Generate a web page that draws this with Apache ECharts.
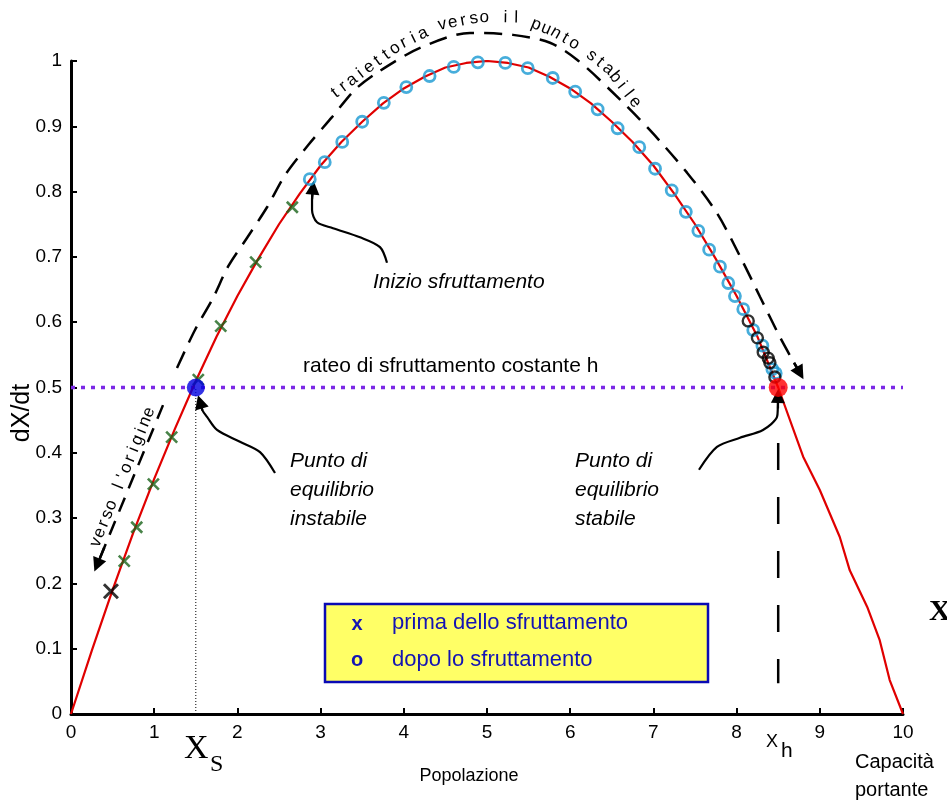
<!DOCTYPE html>
<html><head><meta charset="utf-8">
<script src="https://cdn.jsdelivr.net/npm/echarts@6/dist/echarts.min.js"></script>
<style>html,body{margin:0;padding:0;background:#fff}#c{width:947px;height:800px}</style>
</head><body><div id="c"></div>
<script>
// ---------- data ----------
const xTicks = [0,1,2,3,4,5,6,7,8,9,10];
const yTicks = [0,0.1,0.2,0.3,0.4,0.5,0.6,0.7,0.8,0.9,1];
const curveX = [0,0.25,0.5,0.75,1,1.25,1.5,1.75,2,2.25,2.5,2.75,3,3.25,3.5,3.75,4,4.25,4.5,4.75,5,5.25,5.5,5.75,6,6.25,6.5,6.75,7,7.25,7.5,7.75,8,8.25,8.5,8.8,9.0,9.24,9.36,9.57,9.72,9.84,10];
const curveY = [0,0.097,0.19,0.278,0.36,0.437,0.51,0.578,0.64,0.697,0.75,0.797,0.84,0.876,0.907,0.935,0.958,0.976,0.99,0.997,1.0,0.997,0.99,0.976,0.958,0.935,0.907,0.876,0.84,0.797,0.75,0.697,0.64,0.578,0.5,0.394,0.343,0.271,0.22,0.164,0.113,0.052,0];
const startX = [0.48], startY = [0.188];
const beforeX = [0.64,0.79,0.99,1.21,1.53,1.80,2.22,2.66];
const beforeY = [0.234,0.286,0.352,0.424,0.512,0.594,0.692,0.776];
const afterX = [2.87,3.05,3.26,3.50,3.76,4.03,4.31,4.60,4.89,5.22,5.49,5.79,6.06,6.33,6.57,6.83,7.02,7.22,7.39,7.54,7.67,7.80,7.90,7.98,8.08,8.20,8.31,8.43,8.47];
const afterY = [0.819,0.845,0.876,0.907,0.936,0.960,0.977,0.991,0.998,0.997,0.989,0.974,0.953,0.926,0.897,0.868,0.835,0.802,0.769,0.740,0.711,0.685,0.660,0.640,0.620,0.588,0.564,0.528,0.522];
const afterBlackX = [8.14,8.25,8.32,8.38,8.40,8.46];
const afterBlackY = [0.602,0.576,0.554,0.545,0.538,0.516];
const rateH = 0.5;
const xRange = [0,10];
const xS = 1.5, xH = 8.5;
const xHDashY = [0.415,0.047];
// annotation paths (data units)
const trajUpX = [1.274,1.490,1.707,1.887,2.115,2.356,2.572,2.849,3.137,3.413,3.690,4.195,4.796,5.312,5.757,6.082,6.478,6.959,7.404,7.764,8.065,8.281,8.522,8.69,8.762];
const trajUpY = [0.530,0.588,0.637,0.685,0.729,0.776,0.825,0.871,0.914,0.956,0.983,1.020,1.043,1.040,1.028,1.002,0.956,0.894,0.829,0.767,0.695,0.639,0.577,0.538,0.522];
const trajDownX = [1.106,0.40,0.313];
const trajDownY = [0.473,0.255,0.228];
const arrInizioX = [3.798,3.714,3.474,3.149,2.957,2.897,2.897,2.909];
const arrInizioY = [0.691,0.715,0.730,0.744,0.753,0.772,0.788,0.806];
const arrInstX = [2.452,2.272,2.031,1.755,1.635,1.580,1.550];
const arrInstY = [0.369,0.401,0.417,0.435,0.455,0.465,0.478];
const arrStabX = [7.548,7.764,8.041,8.317,8.486,8.495,8.498];
const arrStabY = [0.374,0.409,0.423,0.435,0.455,0.468,0.487];
const arcTextX = [3.173,3.534,3.954,4.435,4.916,5.397,5.817,6.178,6.478,6.779];
const arcTextY = [0.951,0.986,1.025,1.055,1.067,1.066,1.044,1.017,0.986,0.937];
const arcText = "traiettoria verso il punto stabile";
const leftTextX = [0.300,0.935], leftTextY = [0.263,0.462];
const leftText = "verso l'origine";

// ---------- helpers ----------
const zip = (a,b)=>a.map((v,i)=>[v,b[i]]);
const SANS = '"Liberation Sans", Arial, sans-serif';
const SERIF = '"Liberation Serif", "Times New Roman", serif';
const crossPath = 'path://M0,0L10,10M10,0L0,10';

function arrowLine(name, xs, ys, dash, width, z){
  const pts = zip(xs, ys);
  const n = pts.length;
  return {
    name, type:'line', data: pts, showSymbol:false, symbol:'none', smooth:0.3, clip:false, silent:true, z: z||3,
    lineStyle:{color:'#000', width: width, type: dash},
    markLine:{
      silent:true, symbol:['none','triangle'], symbolSize:14, animation:false,
      label:{show:false}, lineStyle:{color:'#000', width: width, type:'solid'},
      data:[[{coord:pts[n-2]},{coord:pts[n-1]}]]
    }
  };
}

const chart = echarts.init(document.getElementById('c'), null, {renderer:'canvas'});
const option = {
  animation:false,
  backgroundColor:'#fff',
  grid:{left:71, right:44, top:61, bottom:86, containLabel:false},
  xAxis:{
    type:'value', min:xTicks[0], max:xTicks[xTicks.length-1], interval:1,
    axisLine:{show:true, onZero:false, lineStyle:{color:'#000', width:3}},
    axisTick:{show:true, inside:true, length:6, lineStyle:{color:'#000', width:2}},
    axisLabel:{color:'#000', fontSize:19, fontFamily:SANS, margin:9},
    splitLine:{show:false}
  },
  yAxis:{
    type:'value', min:yTicks[0], max:yTicks[yTicks.length-1], interval:0.1,
    axisLine:{show:true, onZero:false, lineStyle:{color:'#000', width:3}},
    axisTick:{show:true, inside:true, length:6, lineStyle:{color:'#000', width:2}},
    axisLabel:{color:'#000', fontSize:19, fontFamily:SANS, margin:9,
      formatter:v=>{ const r=Math.round(v*10)/10; return (r===0||r===1)?String(r):r.toFixed(1);} },
    splitLine:{show:false}
  },
  series:[
    {name:'h', type:'line', data:[[xRange[0],rateH],[xRange[1],rateH]], symbol:'none', silent:true, z:2,
      lineStyle:{color:'#7a28e6', width:3.5, type:[4,6]}},
    {name:'xs', type:'line', data:[[xS,0],[xS,rateH]], symbol:'none', silent:true, z:2,
      lineStyle:{color:'#000', width:1, type:[1,2]}},
    {name:'xh', type:'line', data:[[xH,xHDashY[0]],[xH,xHDashY[1]]], symbol:'none', silent:true, z:2,
      lineStyle:{color:'#000', width:2.5, type:[27,27]}},
    {name:'curve', type:'line', data:zip(curveX,curveY), symbol:'none', silent:true, z:3,
      lineStyle:{color:'#e00000', width:2.2}},
    arrowLine('trajUp', trajUpX, trajUpY, [18,10], 2.5, 3),
    arrowLine('trajDown', trajDownX, trajDownY, [15,10], 2.5, 3),
    arrowLine('arrInizio', arrInizioX, arrInizioY, 'solid', 2.2, 3),
    arrowLine('arrInst', arrInstX, arrInstY, 'solid', 2.2, 3),
    arrowLine('arrStab', arrStabX, arrStabY, 'solid', 2.2, 3),
    {name:'before', type:'scatter', data:zip(beforeX,beforeY), symbol:crossPath, symbolSize:11, z:5,
      itemStyle:{color:'transparent', borderColor:'#1a641a', borderWidth:2.6}},
    {name:'start', type:'scatter', data:zip(startX,startY), symbol:crossPath, symbolSize:14, z:5,
      itemStyle:{color:'transparent', borderColor:'#000', borderWidth:3}},
    {name:'after', type:'scatter', data:zip(afterX,afterY), symbol:'circle', symbolSize:[11,11], z:6,
      itemStyle:{color:'rgba(255,255,255,0)', borderColor:'#1898d2', borderWidth:2.8}},
    {name:'afterBlack', type:'scatter', data:zip(afterBlackX,afterBlackY), symbol:'circle', symbolSize:[11,11], z:6,
      itemStyle:{color:'rgba(255,255,255,0)', borderColor:'#000', borderWidth:2.4}},
    {name:'unstable', type:'scatter', data:[[xS,rateH]], symbol:'circle', symbolSize:18, z:7,
      itemStyle:{color:'#0000e0'}},
    {name:'stable', type:'scatter', data:[[xH,rateH]], symbol:'circle', symbolSize:19, z:7,
      itemStyle:{color:'#ff0000'}}
  ]
};
chart.setOption(option);

// ---------- text annotations ----------
function px(p){ return chart.convertToPixel({gridIndex:0}, p); }
function alongPath(text, xs, ys, size){
  const P = zip(xs,ys).map(px);
  const L=[0];
  for(let i=1;i<P.length;i++) L.push(L[i-1]+Math.hypot(P[i][0]-P[i-1][0],P[i][1]-P[i-1][1]));
  const total = L[L.length-1];
  const out=[];
  for(let k=0;k<text.length;k++){
    const ch=text[k]; if(ch===' ') continue;
    const d = total*k/(text.length-1);
    let i=1; while(i<P.length-1 && L[i]<d) i++;
    const t=(d-L[i-1])/(L[i]-L[i-1]);
    const x=P[i-1][0]+t*(P[i][0]-P[i-1][0]), y=P[i-1][1]+t*(P[i][1]-P[i-1][1]);
    const ang=-Math.atan2(P[i][1]-P[i-1][1], P[i][0]-P[i-1][0]);
    out.push({type:'text', x, y, rotation:ang, z:20, silent:true,
      style:{text:ch, fill:'#000', font:size+'px '+SANS, textAlign:'center', textVerticalAlign:'middle'}});
  }
  return out;
}
function T(text, x, y, opt){
  opt=opt||{};
  return {type:'text', x, y, rotation:opt.rot||0, z:20, silent:true,
    style:{text, fill:opt.color||'#000',
      font:(opt.style||'normal')+' '+(opt.weight||'normal')+' '+(opt.size||19)+'px '+(opt.family||SANS),
      textAlign:opt.align||'left', textVerticalAlign:'middle'}};
}
const g = [];
g.push(...alongPath(arcText, arcTextX, arcTextY, 17));
g.push(...alongPath(leftText, leftTextX, leftTextY, 17));
g.push(T('Inizio sfruttamento', 373, 282, {style:'italic', size:21}));
g.push(T('rateo di sfruttamento costante h', 303, 366, {size:21}));
['Punto di','equilibrio','instabile'].forEach((s,i)=>g.push(T(s, 290, 461+29*i, {style:'italic', size:21})));
['Punto di','equilibrio','stabile'].forEach((s,i)=>g.push(T(s, 575, 461+29*i, {style:'italic', size:21})));
g.push(T('dX/dt', 22, 413, {rot:Math.PI/2, align:'center', size:25}));
g.push(T('Popolazione', 469, 776, {align:'center', size:18}));
g.push(T('Capacità', 855, 762, {size:20}));
g.push(T('portante', 855, 790, {size:20}));
g.push(T('X', 184, 749, {family:SERIF, size:34}));
g.push(T('S', 210, 765, {family:SERIF, size:24}));
g.push(T('X', 766, 742, {size:18}));
g.push(T('h', 781, 751, {size:21}));
g.push(T('X', 929, 612, {family:SERIF, size:30, weight:'bold'}));
// legend box
g.push({type:'rect', shape:{x:325, y:604, width:383, height:78}, z:19, silent:true,
  style:{fill:'#ffff66', stroke:'#0a0ab4', lineWidth:2.5}});
g.push(T('x', 357, 624, {size:20, weight:'bold', align:'center', color:'#1414b4'}));
g.push(T('o', 357, 660, {size:20, weight:'bold', align:'center', color:'#1414b4'}));
g.push(T('prima dello sfruttamento', 392, 623, {size:22, color:'#1414b4'}));
g.push(T('dopo lo sfruttamento', 392, 660, {size:22, color:'#1414b4'}));
chart.setOption({graphic:{elements:g}});
</script>
</body></html>
